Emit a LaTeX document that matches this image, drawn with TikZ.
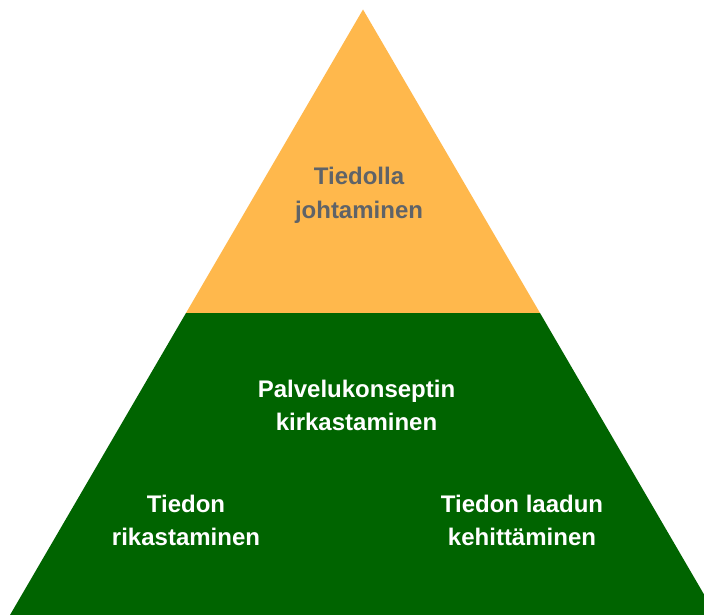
\documentclass[tikz,border=0pt]{standalone}
\usepackage{fontspec}
\setmainfont{Liberation Sans}
\definecolor{apexorange}{RGB}{255,184,76}
\definecolor{basegreen}{RGB}{0,100,0}
\definecolor{labelgray}{RGB}{95,99,104}
\tikzset{
  % base anchor sits on the baseline of the last line
  layerlabel/.style={anchor=base, inner sep=0pt, align=center,
    font=\fontsize{24bp}{33bp}\selectfont\bfseries},
  toplabel/.style={layerlabel, text=labelgray},
  baselabel/.style={layerlabel, text=white},
}
\begin{document}
\begin{tikzpicture}[x=1bp,y=-1bp]
  \useasboundingbox (0,0) rectangle (704,615);
  \clip (0,0) rectangle (704,615);
  % pyramid layers
  \fill[white] (0,0) rectangle (704,615);
  \fill[apexorange] (363,9.5) -- (540,313) -- (186,313) -- cycle;
  \fill[basegreen] (186,313) -- (540,313) -- (716,615) -- (10,615) -- cycle;
  % labels
  \node[toplabel] (lead) at (359,218) {Tiedolla\\johtaminen};
  \node[baselabel] (concept) at (356.5,430) {Palvelukonseptin\\kirkastaminen};
  \node[baselabel] (enrich) at (186,545) {Tiedon\\rikastaminen};
  \node[baselabel] (quality) at (522,545) {Tiedon laadun\\kehittäminen};
\end{tikzpicture}
\end{document}
